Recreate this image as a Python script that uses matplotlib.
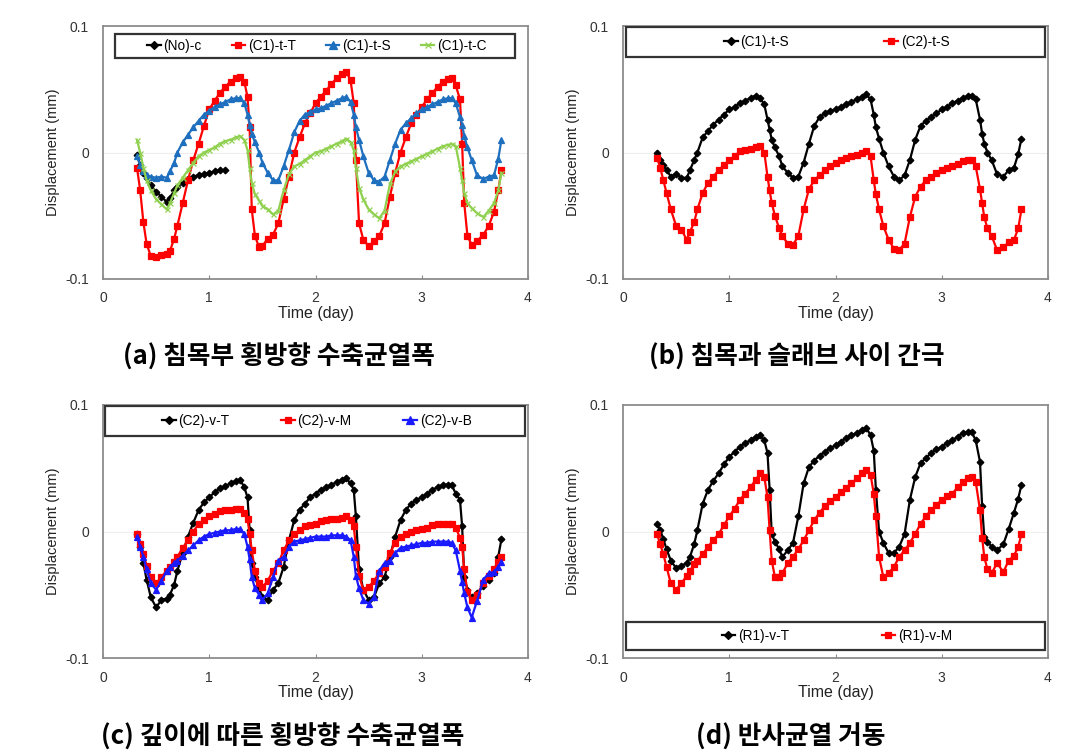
import matplotlib
matplotlib.use("Agg")
import matplotlib.pyplot as plt
from matplotlib.patches import Rectangle

plt.rcParams['font.family'] = ['Liberation Sans', 'DejaVu Sans']

# shared time grid (day) used by the long series
TIME = [0.32, 0.35, 0.38, 0.41, 0.45, 0.5, 0.55, 0.6, 0.63, 0.67,
        0.7, 0.75, 0.8, 0.85, 0.9, 0.95, 1.0, 1.05, 1.1, 1.15,
        1.2, 1.25, 1.29, 1.33, 1.36, 1.38, 1.4, 1.43, 1.47, 1.5,
        1.55, 1.6, 1.65, 1.7, 1.75, 1.8, 1.85, 1.9, 1.95, 2.0,
        2.05, 2.1, 2.15, 2.2, 2.25, 2.29, 2.33, 2.36, 2.38, 2.41,
        2.45, 2.5, 2.55, 2.6, 2.65, 2.7, 2.75, 2.8, 2.85, 2.9,
        2.95, 3.0, 3.05, 3.1, 3.15, 3.2, 3.25, 3.28, 3.32, 3.36,
        3.38, 3.4, 3.43, 3.47, 3.52, 3.58, 3.63, 3.68, 3.72, 3.75]

# (a)
A_NO_TIME = [0.32, 0.35, 0.38, 0.41, 0.45, 0.5, 0.55, 0.6, 0.63, 0.67,
             0.7, 0.75, 0.8, 0.85, 0.9, 0.95, 1.0, 1.05, 1.1, 1.15]
A_NO_C = [-0.002, -0.010, -0.016, -0.020, -0.026, -0.031, -0.035, -0.039, -0.036, -0.030,
          -0.027, -0.024, -0.021, -0.019, -0.018, -0.017, -0.016, -0.015, -0.014, -0.014]
A_C1_T = [-0.012, -0.030, -0.055, -0.072, -0.082, -0.083, -0.081, -0.080, -0.078, -0.068,
          -0.058, -0.040, -0.022, -0.006, 0.007, 0.021, 0.034, 0.041, 0.047, 0.052,
          0.056, 0.059, 0.060, 0.056, 0.044, 0.020, -0.045, -0.066, -0.075, -0.074,
          -0.068, -0.065, -0.056, -0.037, -0.019, 0.000, 0.012, 0.023, 0.031, 0.039,
          0.044, 0.049, 0.054, 0.059, 0.062, 0.064, 0.057, 0.039, -0.006, -0.056,
          -0.069, -0.074, -0.070, -0.066, -0.056, -0.035, -0.016, 0.000, 0.012, 0.023,
          0.030, 0.036, 0.042, 0.047, 0.052, 0.056, 0.058, 0.059, 0.053, 0.042,
          0.007, -0.040, -0.066, -0.073, -0.070, -0.065, -0.058, -0.047, -0.030, -0.014]
A_C1_S = [-0.003, -0.010, -0.015, -0.018, -0.019, -0.020, -0.019, -0.020, -0.015, -0.008,
          0.000, 0.008, 0.014, 0.020, 0.025, 0.030, 0.033, 0.036, 0.038, 0.040,
          0.042, 0.043, 0.043, 0.039, 0.030, 0.022, 0.015, 0.008, 0.000, -0.008,
          -0.016, -0.022, -0.022, -0.011, 0.002, 0.016, 0.025, 0.030, 0.032, 0.034,
          0.035, 0.037, 0.039, 0.041, 0.043, 0.044, 0.040, 0.030, 0.020, 0.010,
          -0.003, -0.016, -0.022, -0.023, -0.019, -0.006, 0.007, 0.018, 0.023, 0.027,
          0.031, 0.034, 0.036, 0.038, 0.040, 0.042, 0.043, 0.043, 0.039, 0.028,
          0.022, 0.013, 0.004, -0.006, -0.018, -0.021, -0.019, -0.018, -0.005, 0.010]
A_C1_C = [0.010, 0.000, -0.012, -0.022, -0.030, -0.037, -0.041, -0.045, -0.040, -0.032,
          -0.026, -0.020, -0.014, -0.008, -0.003, 0.000, 0.002, 0.004, 0.007, 0.009,
          0.010, 0.012, 0.013, 0.010, 0.002, -0.012, -0.024, -0.033, -0.038, -0.042,
          -0.045, -0.049, -0.046, -0.030, -0.017, -0.011, -0.009, -0.006, -0.003, 0.000,
          0.001, 0.003, 0.005, 0.007, 0.009, 0.011, 0.008, 0.002, -0.012, -0.028,
          -0.037, -0.045, -0.049, -0.052, -0.046, -0.025, -0.015, -0.011, -0.009, -0.007,
          -0.005, -0.003, -0.001, 0.001, 0.003, 0.005, 0.006, 0.007, 0.005, -0.012,
          -0.022, -0.032, -0.040, -0.044, -0.048, -0.051, -0.046, -0.040, -0.030, -0.016]

# (b)
B_C1_S = [0.000, -0.006, -0.010, -0.014, -0.019, -0.017, -0.020, -0.020, -0.014, -0.006,
          0.000, 0.012, 0.017, 0.022, 0.026, 0.030, 0.034, 0.036, 0.039, 0.041,
          0.043, 0.045, 0.043, 0.038, 0.026, 0.018, 0.010, 0.004, -0.003, -0.011,
          -0.016, -0.020, -0.019, -0.008, 0.007, 0.021, 0.028, 0.031, 0.033, 0.034,
          0.036, 0.038, 0.040, 0.042, 0.044, 0.046, 0.042, 0.030, 0.020, 0.011,
          0.000, -0.011, -0.019, -0.022, -0.018, -0.006, 0.010, 0.021, 0.025, 0.028,
          0.031, 0.034, 0.036, 0.039, 0.041, 0.043, 0.045, 0.045, 0.042, 0.026,
          0.015, 0.007, 0.000, -0.006, -0.017, -0.019, -0.014, -0.012, -0.001, 0.011]
B_C2_S = [-0.004, -0.012, -0.022, -0.032, -0.045, -0.058, -0.061, -0.069, -0.063, -0.055,
          -0.045, -0.032, -0.024, -0.019, -0.014, -0.010, -0.006, -0.003, 0.001, 0.002,
          0.003, 0.004, 0.005, 0.000, -0.019, -0.030, -0.040, -0.050, -0.060, -0.066,
          -0.072, -0.073, -0.066, -0.045, -0.029, -0.022, -0.018, -0.014, -0.011, -0.008,
          -0.006, -0.004, -0.003, -0.002, 0.000, 0.001, -0.003, -0.022, -0.033, -0.045,
          -0.058, -0.069, -0.076, -0.077, -0.072, -0.051, -0.035, -0.027, -0.022, -0.019,
          -0.016, -0.014, -0.012, -0.011, -0.009, -0.007, -0.006, -0.006, -0.011, -0.029,
          -0.040, -0.051, -0.060, -0.066, -0.077, -0.075, -0.071, -0.069, -0.060, -0.045]

# (c)
C_C2_T = [-0.002, -0.012, -0.025, -0.038, -0.052, -0.060, -0.054, -0.053, -0.050, -0.042,
          -0.031, -0.017, -0.004, 0.007, 0.017, 0.023, 0.027, 0.031, 0.034, 0.036,
          0.038, 0.040, 0.041, 0.035, 0.027, 0.001, -0.025, -0.036, -0.045, -0.052,
          -0.054, -0.046, -0.041, -0.028, -0.007, 0.009, 0.017, 0.022, 0.027, 0.030,
          0.033, 0.035, 0.037, 0.039, 0.041, 0.042, 0.038, 0.033, 0.012, -0.030,
          -0.046, -0.054, -0.052, -0.041, -0.036, -0.020, -0.004, 0.009, 0.017, 0.022,
          0.025, 0.027, 0.030, 0.033, 0.035, 0.037, 0.037, 0.037, 0.030, 0.025,
          0.004, -0.036, -0.046, -0.052, -0.049, -0.043, -0.038, -0.033, -0.020, -0.006]
C_C2_M = [-0.002, -0.010, -0.018, -0.027, -0.036, -0.041, -0.036, -0.031, -0.028, -0.024,
          -0.020, -0.013, -0.007, 0.000, 0.006, 0.009, 0.012, 0.014, 0.016, 0.017,
          0.017, 0.018, 0.018, 0.015, 0.010, -0.002, -0.015, -0.031, -0.041, -0.044,
          -0.039, -0.031, -0.025, -0.015, -0.007, -0.002, 0.001, 0.004, 0.005, 0.006,
          0.008, 0.009, 0.010, 0.010, 0.011, 0.012, 0.009, 0.004, -0.012, -0.035,
          -0.046, -0.044, -0.039, -0.033, -0.028, -0.017, -0.009, -0.004, -0.002, 0.000,
          0.001, 0.002, 0.003, 0.005, 0.006, 0.006, 0.006, 0.006, 0.003, -0.005,
          -0.012, -0.030, -0.048, -0.054, -0.050, -0.041, -0.035, -0.030, -0.024, -0.020]
C_C2_B = [-0.004, -0.012, -0.020, -0.030, -0.041, -0.046, -0.039, -0.031, -0.028, -0.025,
          -0.023, -0.019, -0.015, -0.011, -0.007, -0.004, -0.002, -0.001, 0.000, 0.001,
          0.001, 0.002, 0.002, -0.002, -0.012, -0.022, -0.036, -0.045, -0.050, -0.054,
          -0.049, -0.036, -0.023, -0.020, -0.012, -0.008, -0.007, -0.006, -0.005, -0.004,
          -0.004, -0.004, -0.003, -0.003, -0.003, -0.004, -0.007, -0.020, -0.035, -0.045,
          -0.054, -0.057, -0.052, -0.031, -0.025, -0.023, -0.017, -0.013, -0.012, -0.011,
          -0.010, -0.009, -0.009, -0.008, -0.008, -0.008, -0.008, -0.009, -0.015, -0.031,
          -0.040, -0.049, -0.060, -0.068, -0.055, -0.038, -0.033, -0.032, -0.028, -0.024]

# (d)
D_R1_T = [0.006, 0.001, -0.006, -0.014, -0.023, -0.029, -0.027, -0.025, -0.020, -0.010,
          0.001, 0.022, 0.033, 0.040, 0.046, 0.053, 0.059, 0.063, 0.067, 0.070,
          0.072, 0.075, 0.076, 0.072, 0.062, 0.033, -0.002, -0.008, -0.014, -0.020,
          -0.015, -0.009, 0.012, 0.038, 0.051, 0.056, 0.060, 0.063, 0.066, 0.068,
          0.071, 0.074, 0.076, 0.078, 0.080, 0.082, 0.076, 0.064, 0.033, 0.000,
          -0.009, -0.017, -0.017, -0.012, -0.002, 0.025, 0.043, 0.054, 0.058, 0.062,
          0.065, 0.067, 0.070, 0.072, 0.075, 0.078, 0.079, 0.079, 0.072, 0.055,
          0.020, -0.004, -0.008, -0.012, -0.015, -0.010, 0.002, 0.015, 0.026, 0.037]
D_R1_M = [-0.002, -0.010, -0.018, -0.028, -0.041, -0.046, -0.041, -0.035, -0.031, -0.026,
          -0.023, -0.018, -0.012, -0.007, -0.002, 0.005, 0.012, 0.018, 0.025, 0.030,
          0.035, 0.041, 0.046, 0.043, 0.027, 0.001, -0.023, -0.036, -0.036, -0.033,
          -0.025, -0.020, -0.014, -0.007, 0.001, 0.009, 0.015, 0.020, 0.024, 0.027,
          0.031, 0.034, 0.038, 0.042, 0.046, 0.049, 0.045, 0.030, 0.012, -0.020,
          -0.036, -0.033, -0.028, -0.020, -0.015, -0.009, -0.002, 0.006, 0.012, 0.017,
          0.021, 0.025, 0.028, 0.030, 0.035, 0.039, 0.042, 0.043, 0.039, 0.017,
          -0.005, -0.020, -0.030, -0.033, -0.025, -0.032, -0.023, -0.019, -0.012, -0.002]

X_TICKS = [0, 1, 2, 3, 4]
Y_TICKS = [-0.1, 0, 0.1]
Y_TICK_LABELS = ['-0.1', '0', '0.1']

CAPTIONS = ['(a) 침목부 횡방향 수축균열폭', '(b) 침목과 슬래브 사이 간극',
            '(c) 깊이에 따른 횡방향 수축균열폭', '(d) 반사균열 거동']

W, H = 1087, 753
fig = plt.figure(figsize=(W / 100, H / 100), dpi=100)


def px_axes(left, top, right, bottom):
    return fig.add_axes([left / W, 1 - bottom / H, (right - left) / W, (bottom - top) / H])


def style_axes(ax):
    ax.set_xlim(0, 4)
    ax.set_ylim(-0.1, 0.1)
    ax.set_xticks(X_TICKS)
    ax.set_yticks(Y_TICKS)
    ax.set_yticklabels(Y_TICK_LABELS)
    ax.axhline(0, color='#eeeeee', lw=0.8, zorder=0)
    for s in ax.spines.values():
        s.set_color('#8c8c8c')
        s.set_linewidth(1.3)
    ax.tick_params(axis='x', direction='in', length=3, color='#8c8c8c',
                   labelsize=10, labelcolor='#333333', pad=9)
    ax.tick_params(axis='y', length=0, labelsize=10, labelcolor='#333333', pad=10)
    ax.set_xlabel('Time (day)', fontsize=11.5, color='#222222')
    ax.set_ylabel('Displacement (mm)', fontsize=10.5, color='#222222')
    ax.xaxis.set_label_coords(0.5, -0.108)
    ax.yaxis.set_label_coords(-0.1, 0.5)


def add_legend(ax, rect, ycenter, spacing):
    ax.add_patch(Rectangle(rect[:2], rect[2], rect[3], transform=ax.transAxes,
                           facecolor='white', edgecolor='#333333', lw=1.6, zorder=5))
    leg = ax.legend(loc='center', bbox_to_anchor=(0.503, ycenter), ncol=4, frameon=False,
                    handlelength=1.0, handletextpad=0.2, columnspacing=spacing,
                    fontsize=9.8, borderaxespad=0, borderpad=0, markerscale=1.2)
    leg.set_zorder(6)


def series(ax, t, v, label, color, marker, ms=4.0):
    ax.plot(t, v, color=color, marker=marker, markersize=ms, lw=1.6,
            markeredgewidth=0.9, label=label)


# (a)
ax = px_axes(103, 26, 528, 279)
series(ax, A_NO_TIME, A_NO_C, '(No)-c', 'black', 'D', 3.4)
series(ax, TIME, A_C1_T, '(C1)-t-T', '#ff0000', 's')
series(ax, TIME, A_C1_S, '(C1)-t-S', '#1f6fbf', '^', 4.4)
series(ax, TIME, A_C1_C, '(C1)-t-C', '#8fd14f', 'x', 3.6)
style_axes(ax)
add_legend(ax, (0.028, 0.874, 0.941, 0.094), 0.921, 2.2)

# (b)
ax = px_axes(623, 26, 1048, 279)
series(ax, TIME, B_C1_S, '(C1)-t-S', 'black', 'D', 3.4)
series(ax, TIME, B_C2_S, '(C2)-t-S', '#ff0000', 's')
style_axes(ax)
add_legend(ax, (0.007, 0.876, 0.986, 0.121), 0.936, 7.0)

# (c)
ax = px_axes(103, 405, 528, 658)
series(ax, TIME, C_C2_T, '(C2)-v-T', 'black', 'D', 3.4)
series(ax, TIME, C_C2_M, '(C2)-v-M', '#ff0000', 's')
series(ax, TIME, C_C2_B, '(C2)-v-B', '#1a1aff', '^', 4.4)
style_axes(ax)
add_legend(ax, (0.005, 0.879, 0.988, 0.117), 0.937, 3.8)

# (d)
ax = px_axes(623, 405, 1048, 658)
series(ax, TIME, D_R1_T, '(R1)-v-T', 'black', 'D', 3.4)
series(ax, TIME, D_R1_M, '(R1)-v-M', '#ff0000', 's')
style_axes(ax)
add_legend(ax, (0.007, 0.032, 0.986, 0.109), 0.086, 6.8)

cap_pos = [(279, 357), (797, 357), (283, 737), (791, 737)]
for text, (cx, cy) in zip(CAPTIONS, cap_pos):
    fig.text(cx / W, 1 - cy / H, text, ha='center', va='center', fontsize=18.5,
             fontweight='bold', family=['Noto Sans CJK KR', 'DejaVu Sans'])

fig.savefig('out.png', dpi=100)
